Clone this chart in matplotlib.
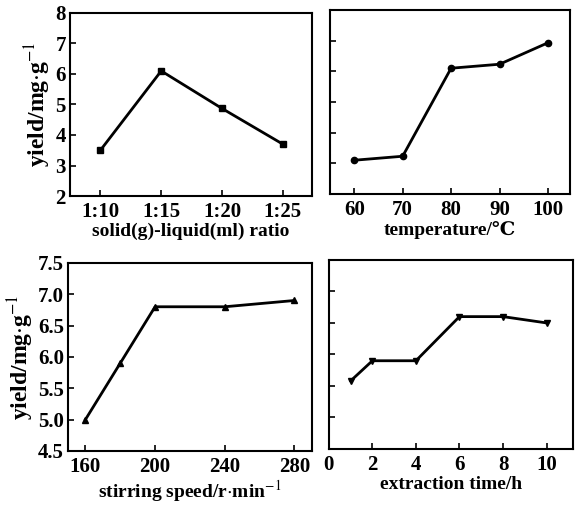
import matplotlib
matplotlib.use('Agg')
import matplotlib.pyplot as plt

plt.rcParams['font.family'] = ['Liberation Serif', 'DejaVu Serif']
plt.rcParams['mathtext.fontset'] = 'stix'

# data
ratio_labels = ['1:10', '1:15', '1:20', '1:25']
ratio_yield = [3.5, 6.1, 4.87, 3.7]

temp = [60, 70, 80, 90, 100]
temp_yield = [3.1, 3.23, 6.1, 6.23, 6.93]

speed = [160, 180, 200, 240, 280]
speed_yield = [5.0, 5.9, 6.8, 6.8, 6.9]

time_h = [1, 2, 4, 6, 8, 10]
time_yield = [5.58, 5.9, 5.9, 6.6, 6.6, 6.5]

fig = plt.figure(figsize=(5.82, 5.07), dpi=100)

ax1 = fig.add_axes([0.1203, 0.6134, 0.4158, 0.361])
ax2 = fig.add_axes([0.567, 0.6174, 0.412, 0.363])
ax3 = fig.add_axes([0.1168, 0.1105, 0.419, 0.371])
ax4 = fig.add_axes([0.565, 0.1144, 0.419, 0.373])

line_kw = dict(color='black', lw=2, markersize=4.5)

ax1.plot(range(len(ratio_labels)), ratio_yield, marker='s', **line_kw)
ax1.set_xticks(range(len(ratio_labels)))
ax1.set_xticklabels(ratio_labels)
ax1.set_xlim(-0.5, 3.48)
ax1.set_ylim(2, 8)
ax1.set_yticks([2, 3, 4, 5, 6, 7, 8])
ax1.set_xlabel('solid(g)-liquid(ml) ratio')
ax1.set_ylabel('yield/mg$\\cdot$g$^{-1}$')

ax2.plot(temp, temp_yield, marker='o', **line_kw)
ax2.set_xlim(55, 104.5)
ax2.set_xticks([60, 70, 80, 90, 100])
ax2.set_ylim(2, 8)
ax2.set_yticks([3, 4, 5, 6, 7])
ax2.set_yticklabels([])
ax2.set_xlabel('temperature/℃')

ax3.plot(speed, speed_yield, marker='^', **line_kw)
ax3.set_xlim(150, 290)
ax3.set_xticks([160, 200, 240, 280])
ax3.set_ylim(4.5, 7.5)
ax3.set_yticks([4.5, 5.0, 5.5, 6.0, 6.5, 7.0, 7.5])
ax3.set_yticklabels(['4.5', '5.0', '5.5', '6.0', '6.5', '7.0', '7.5'])
ax3.set_xlabel('stirring speed/r$\\cdot$min$^{-1}$')
ax3.set_ylabel('yield/mg$\\cdot$g$^{-1}$')

ax4.plot(time_h, time_yield, marker='v', **line_kw)
ax4.set_xlim(0, 11.2)
ax4.set_xticks([0, 2, 4, 6, 8, 10])
ax4.set_ylim(4.5, 7.5)
ax4.set_yticks([5.0, 5.5, 6.0, 6.5, 7.0])
ax4.set_yticklabels([])
ax4.set_xlabel('extraction time/h')

for ax in [ax1, ax2, ax3, ax4]:
    for s in ax.spines.values():
        s.set_linewidth(1.5)
    ax.tick_params(direction='in', length=4, width=1.2, labelsize=15, pad=4)
    for lab in ax.get_xticklabels() + ax.get_yticklabels():
        lab.set_fontweight('bold')
    ax.xaxis.label.set_size(14)
    ax.xaxis.label.set_fontweight('bold')
    ax.xaxis.labelpad = 1
    ax.yaxis.label.set_size(17)
    ax.yaxis.label.set_fontweight('bold')

ax1.tick_params(axis='y', pad=3)
ax3.tick_params(axis='y', pad=3)
ax1.yaxis.labelpad = 2
ax3.yaxis.labelpad = 1

fig.savefig('out.png', dpi=100)
